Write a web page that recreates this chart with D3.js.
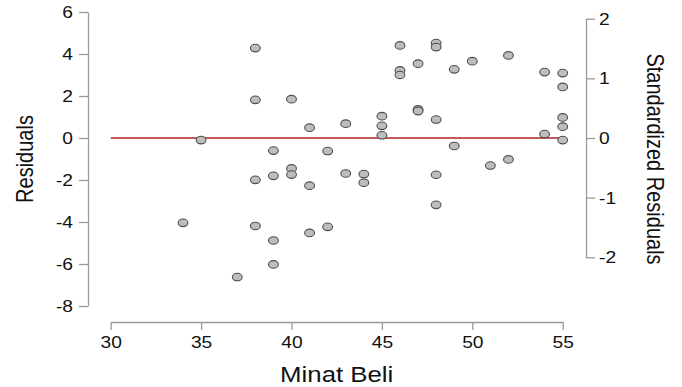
<!DOCTYPE html>
<html>
<head>
<meta charset="utf-8">
<script src="https://cdn.jsdelivr.net/npm/d3@7"></script>
<style>
  body { margin: 0; background: #fff; }
  text { font-family: "Liberation Sans", Arial, sans-serif; fill: #111; }
  .axis path, .axis line { stroke: #9a9a9a; stroke-width: 1.3; }
</style>
</head>
<body>
<div id="chart"></div>
<script>
//*********************** DATA ***********************
var minatBeli = [34, 35, 37, 38, 38, 38, 38, 39, 39, 39, 39, 40, 40, 40, 41, 41, 41, 42, 42, 43,
                 43, 44, 44, 45, 45, 45, 46, 46, 46, 47, 47, 47, 48, 48, 48, 48, 48, 49, 49, 50,
                 51, 52, 52, 54, 54, 55, 55, 55, 55, 55];
var residuals = [-4.04, -0.10, -6.62, 4.28, 1.82, -1.99, -4.19, -0.60, -1.80, -4.88, -6.02, 1.85, -1.45, -1.74, 0.49, -2.27, -4.52, -0.62, -4.23, 0.68,
                 -1.69, -1.72, -2.13, 1.04, 0.58, 0.13, 4.41, 3.22, 3.00, 3.54, 1.36, 1.28, 4.52, 4.33, 0.88, -1.75, -3.18, 3.27, -0.38, 3.66,
                 -1.31, 3.93, -1.02, 3.14, 0.19, 3.09, 2.43, 0.98, 0.54, -0.10];
var xTicks = [30, 35, 40, 45, 50, 55];
var yTicks = [-8, -6, -4, -2, 0, 2, 4, 6];
var stdTicks = [-2, -1, 0, 1, 2];
var sigma = 2.84; // residual standard error

//*********************** SETUP ***********************
var width = 682,
    height = 387,
    sx = 1.2; // the picture is stretched horizontally

var plain = function(d) { return String(d); }; // hyphen minus, like R

var xScale = d3.scaleLinear().domain([30, 55]).range([110.7, 562.7]),
    yScale = d3.scaleLinear().domain([-8, 6]).range([306, 12]),
    yStd = d3.scaleLinear().domain([-2, 2]).range([yScale(-2 * sigma), yScale(2 * sigma)]);

var svg = d3.select("#chart").append("svg")
  .attr("width", width)
  .attr("height", height);

//left axis
var gLeft = svg.append("g")
  .attr("class", "axis")
  .attr("transform", "translate(88,0)")
  .call(d3.axisLeft(yScale).tickValues(yTicks).tickSize(9).tickSizeOuter(0).tickFormat(plain));
gLeft.selectAll("text")
  .attr("x", null).attr("dy", null)
  .attr("dominant-baseline", "central")
  .attr("transform", "translate(-15,0) scale(" + sx + ",1)")
  .style("font-size", "16px");

//right axis
var gRight = svg.append("g")
  .attr("class", "axis")
  .attr("transform", "translate(586,0)")
  .call(d3.axisRight(yStd).tickValues(stdTicks).tickSize(9).tickSizeOuter(0).tickFormat(plain));
gRight.selectAll("text")
  .attr("x", null).attr("dy", null)
  .attr("dominant-baseline", "central")
  .attr("transform", "translate(13,0) scale(" + sx + ",1)")
  .style("font-size", "16px");

//bottom axis
var gBottom = svg.append("g")
  .attr("class", "axis")
  .attr("transform", "translate(0,322)")
  .call(d3.axisBottom(xScale).tickValues(xTicks).tickSize(8).tickSizeOuter(0).tickFormat(plain));
gBottom.selectAll("text")
  .attr("y", null).attr("dy", null)
  .attr("dominant-baseline", "central")
  .attr("transform", "translate(0,21) scale(" + sx + ",1)")
  .style("font-size", "16px");

svg.selectAll(".axis text").style("fill", "#111");

//axis titles
svg.append("text")
  .attr("transform", "translate(336.7,381.5) scale(" + sx + ",1)")
  .attr("text-anchor", "middle")
  .style("font-size", "21.5px")
  .text("Minat Beli");

svg.append("text")
  .attr("transform", "translate(24.5,159) scale(" + sx + ",1) rotate(-90)")
  .attr("text-anchor", "middle")
  .attr("dominant-baseline", "central")
  .style("font-size", "20px")
  .text("Residuals");

svg.append("text")
  .attr("transform", "translate(655,159) scale(" + sx + ",1) rotate(90)")
  .attr("text-anchor", "middle")
  .attr("dominant-baseline", "central")
  .style("font-size", "20px")
  .text("Standardized Residuals");

//zero line
svg.append("line")
  .attr("x1", xScale(30))
  .attr("x2", xScale(55))
  .attr("y1", yScale(0))
  .attr("y2", yScale(0))
  .attr("stroke", "#b22222")
  .attr("stroke-width", 1.3);

//points
svg.selectAll("ellipse.pt")
  .data(d3.range(minatBeli.length))
  .enter()
  .append("ellipse")
  .attr("class", "pt")
  .attr("cx", function(i) { return xScale(minatBeli[i]); })
  .attr("cy", function(i) { return yScale(residuals[i]); })
  .attr("rx", 4.9)
  .attr("ry", 3.8)
  .attr("fill", "#bdbdbd")
  .attr("stroke", "#4d4d4d")
  .attr("stroke-width", 1.1);
</script>
</body>
</html>
